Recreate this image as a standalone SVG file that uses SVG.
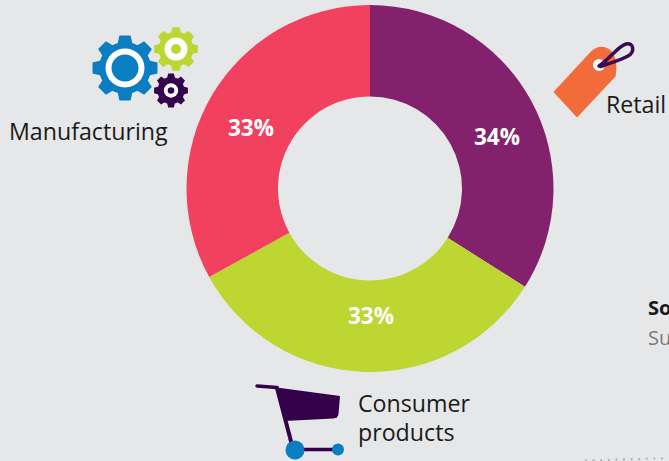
<svg xmlns="http://www.w3.org/2000/svg" xmlns:xlink="http://www.w3.org/1999/xlink" width="669" height="461" viewBox="0 0 669 461">
  <style>
    .lbl { font-family: "Open Sans", "Noto Sans", "Liberation Sans", sans-serif; font-size: 23.2px; fill: #1a1a1a; }
    .pct { font-family: "Open Sans", "Noto Sans", "Liberation Sans", sans-serif; font-size: 22.5px; font-weight: bold; fill: #ffffff; text-anchor: middle; }
    .side { font-family: "Open Sans", "Noto Sans", "Liberation Sans", sans-serif; font-size: 20px; }
    .white { fill: #ffffff; }
  </style>
  <defs>
    <g id="gear">
      <circle cx="0" cy="0" r="26"/>
      <path id="tooth" d="M-7.5,-24 L-5.5,-32.5 L5.5,-32.5 L7.5,-24 Z" stroke-linejoin="round"/>
      <use xlink:href="#tooth" transform="rotate(45)"/>
      <use xlink:href="#tooth" transform="rotate(90)"/>
      <use xlink:href="#tooth" transform="rotate(135)"/>
      <use xlink:href="#tooth" transform="rotate(180)"/>
      <use xlink:href="#tooth" transform="rotate(225)"/>
      <use xlink:href="#tooth" transform="rotate(270)"/>
      <use xlink:href="#tooth" transform="rotate(315)"/>
    </g>
  </defs>
  <rect x="0" y="0" width="669" height="461" fill="#E6E7E8"/>

  <g id="donut">
    <path id="seg-retail" d="M370,5 A183.5,183.5 0 0 1 524.93,286.82 L447.68,237.79 A92,92 0 0 0 370,96.5 Z" fill="#84216C"/>
    <path id="seg-consumer" d="M524.93,286.82 A183.5,183.5 0 0 1 209.2,276.91 L289.38,232.83 A92,92 0 0 0 447.68,237.79 Z" fill="#BDD632"/>
    <path id="seg-manufacturing" d="M209.2,276.91 A183.5,183.5 0 0 1 370,5 L370,96.5 A92,92 0 0 0 289.38,232.83 Z" fill="#F2405F"/>
    <text class="pct" x="497" y="145">34%</text>
    <text class="pct" x="371" y="324">33%</text>
    <text class="pct" x="251" y="136">33%</text>
  </g>

  <g id="node-manufacturing">
    <g id="gear-blue" transform="translate(125,68)">
      <use xlink:href="#gear" fill="#0A7EC0"/>
      <circle r="19.5" class="white"/>
      <circle r="13.5" fill="#0A7EC0"/>
    </g>
    <g id="gear-green" transform="translate(176,49) scale(0.67)">
      <use xlink:href="#gear" fill="#BDD632"/>
    </g>
    <circle cx="176" cy="49" r="11.5" class="white"/>
    <circle cx="176" cy="49" r="5" fill="#BDD632"/>
    <g id="gear-purple" transform="translate(171,90.5) scale(0.52)">
      <use xlink:href="#gear" fill="#33044D"/>
    </g>
    <circle cx="171" cy="90.5" r="7.2" class="white"/>
    <circle cx="171" cy="90.5" r="3.3" fill="#33044D"/>
    <text class="lbl" x="9" y="140">Manufacturing</text>
  </g>

  <g id="node-retail">
    <path d="M553.5,92 L590,52.5 Q599,43 609,49 Q619,57 615.5,76.5 L577,117.5 Z" fill="#F26B3A"/>
    <circle cx="599" cy="65" r="6" class="white"/>
    <path d="M599,66 C609,60 618,46 626,44 C634,42 635,52 628,56 C619,61 609,63 601,66.5" fill="none" stroke="#3A0B55" stroke-width="3.5" stroke-linecap="round"/>
    <text class="lbl" x="606" y="113">Retail</text>
  </g>

  <g id="node-consumer">
    <line x1="257" y1="386" x2="277" y2="387.5" stroke="#33004A" stroke-width="3.5" stroke-linecap="round"/>
    <path d="M276.5,387.5 L340,396 L338.5,414 Q338,418 333,418.5 L285,421 Z" fill="#33004A"/>
    <line x1="277" y1="388" x2="293" y2="449" stroke="#33004A" stroke-width="4" stroke-linecap="round"/>
    <line x1="295" y1="449.5" x2="338" y2="449.5" stroke="#33004A" stroke-width="3.5"/>
    <circle cx="295" cy="450" r="9.5" fill="#0A7EC0"/>
    <circle cx="338" cy="449.5" r="6" fill="#0A7EC0"/>
    <text class="lbl" x="358" y="412">Consumer</text>
    <text class="lbl" x="358" y="441">products</text>
  </g>

  <g id="side-note">
    <text class="side" x="648" y="315" font-weight="bold" fill="#1a1a1a">So</text>
    <text class="side" x="648" y="345" fill="#7a7a7a">Su</text>
  </g>

  <g id="connectors">
    <line x1="586" y1="460.5" x2="669" y2="458" stroke="#A8A8A8" stroke-width="2" stroke-dasharray="0.1 7.5" stroke-linecap="round"/>
  </g>
</svg>
